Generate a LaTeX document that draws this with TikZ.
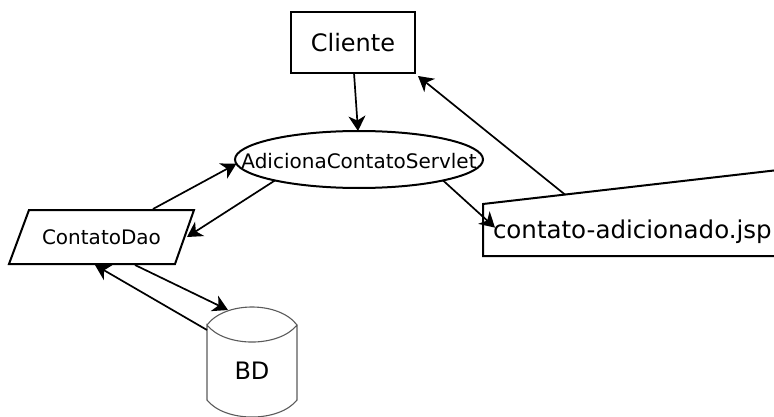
\documentclass[tikz,border=0pt]{standalone}
\usepackage{fontspec}
\setmainfont{DejaVu Sans}
\usetikzlibrary{arrows.meta,shapes.geometric}
\definecolor{bdgray}{RGB}{90,90,90}
\begin{document}
\begin{tikzpicture}[x=1pt,y=-1pt,
  shapeline/.style={line width=2pt, draw=black},
  bdline/.style={line width=1.1pt, draw=bdgray},
  arr/.style={line width=1.7pt, -{Stealth[length=15pt,width=17pt,inset=4.5pt]}},
  big/.style={font=\fontsize{24}{28}\selectfont},
  bigger/.style={font=\fontsize{24.5}{28}\selectfont},
  mid/.style={font=\fontsize{20}{24}\selectfont},
  box/.style={inner sep=0pt, outer sep=0pt}]
\useasboundingbox (0,0) rectangle (774,417);
\clip (0,0) rectangle (774,417);

% Cliente
\node[box, shapeline, minimum width=124pt, minimum height=61pt, big] (cliente) at (353,42.5) {Cliente};

% Servlet
\node[box, shapeline, ellipse, minimum width=248pt, minimum height=57pt,
  label={[mid, yshift=-1.5pt]center:AdicionaContatoServlet}] (servlet) at (359,159.5) {};

% ContatoDao
\node[box, minimum width=185pt, minimum height=54pt, mid] (dao) at (101.5,237) {ContatoDao};
\draw[shapeline] ([xshift=20pt]dao.north west) -- (dao.north east) -- ([xshift=-19pt]dao.south east) -- (dao.south west) -- cycle;

% jsp (manual input shape)
\node[box, minimum width=291pt, minimum height=52pt, anchor=south west] (jsp) at (483,256) {};
\draw[shapeline] (jsp.north west) -- ([xshift=317pt,yshift=36.5pt]jsp.north west) -- ([xshift=317pt]jsp.south west) -- (jsp.south west) -- cycle;
\node[box, bigger, anchor=base west] (jsptext) at (493,238) {contato-adicionado.jsp};

% BD
\node[box, minimum width=90pt, minimum height=110pt] (bd) at (252,362) {};
\draw[bdline] (207,325) .. controls (225,301) and (279,301) .. (297,325)
  .. controls (279,347.7) and (225,347.7) .. (207,325) -- (207,400)
  .. controls (225,422.7) and (279,422.7) .. (297,400) -- (297,325);
\node[box, big] (bdtext) at (252,370.5) {BD};

% connectors
\draw[arr] ([xshift=1pt]cliente.south) -- ([xshift=-1pt]servlet.north);
\draw[arr] (servlet.-14) -- ([xshift=2pt,yshift=3.6pt]jsptext.west);
\draw[arr] ([xshift=82pt,yshift=9.4pt]jsp.north west) -- ([xshift=3pt,yshift=-3pt]cliente.south east);
\draw[arr] ([xshift=51.5pt,yshift=1pt]dao.north) -- (servlet.-178);
\draw[arr] (servlet.-166) -- ([xshift=-7pt]dao.east);
\draw[arr] ([xshift=33.5pt,yshift=-1pt]dao.south) -- ([xshift=-24pt,yshift=-3pt]bd.north);
\draw[arr] ([xshift=-45pt,yshift=-23pt]bd.north) -- ([xshift=-6.5pt,yshift=-1pt]dao.south);
\end{tikzpicture}
\end{document}
